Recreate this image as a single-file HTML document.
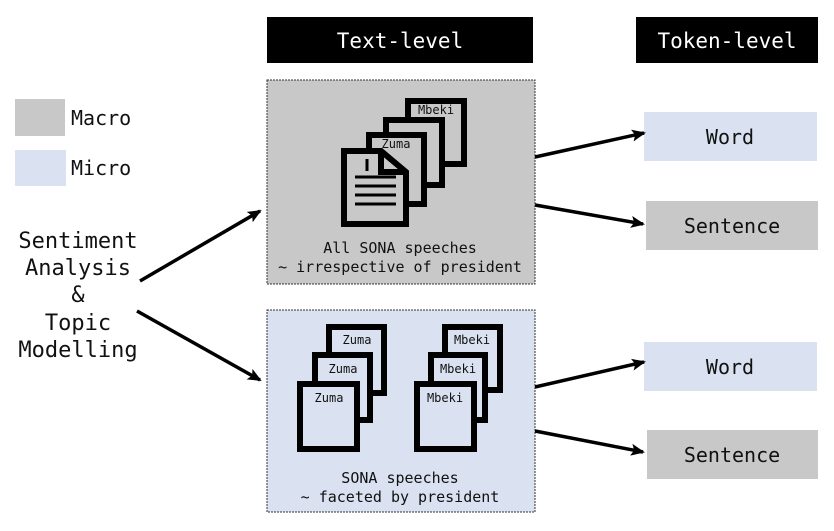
<!DOCTYPE html>
<html><head><meta charset="utf-8"><style>
html,body{margin:0;padding:0;background:#fff;}
svg{display:block;}
text{font-family:"DejaVu Sans Mono","Liberation Mono",monospace;fill:#111;}
</style></head><body>
<svg width="834" height="531" viewBox="0 0 834 531" xmlns="http://www.w3.org/2000/svg">
<defs>
<marker id="ah" markerWidth="14" markerHeight="12" refX="12" refY="6" orient="auto" markerUnits="userSpaceOnUse">
<path d="M0,0 L14,6 L0,12 L3,6 Z" fill="#000"/>
</marker>
</defs>
<!-- headers -->
<rect x="267" y="17" width="266" height="46" fill="#000"/>
<text x="400" y="48" font-size="21" text-anchor="middle" style="fill:#fff">Text-level</text>
<rect x="636" y="17" width="182" height="46" fill="#000"/>
<text x="727" y="48" font-size="21" text-anchor="middle" style="fill:#fff">Token-level</text>
<!-- legend -->
<rect x="15" y="99" width="50" height="37" fill="#c8c8c8"/>
<text x="71" y="125" font-size="20">Macro</text>
<rect x="15" y="150" width="51" height="36" fill="#dae2f1"/>
<text x="71" y="175" font-size="20">Micro</text>
<!-- left label -->
<g font-size="22" text-anchor="middle">
<text x="78" y="248">Sentiment</text>
<text x="78" y="275">Analysis</text>
<text x="78" y="302">&amp;</text>
<text x="78" y="330">Topic</text>
<text x="78" y="357">Modelling</text>
</g>
<line x1="140" y1="281" x2="260" y2="211" stroke="#000" stroke-width="3.5" marker-end="url(#ah)"/>
<line x1="137" y1="311" x2="260" y2="380" stroke="#000" stroke-width="3.5" marker-end="url(#ah)"/>
<!-- top box -->
<rect x="267" y="80" width="268" height="204" fill="#c8c8c8" stroke="#333" stroke-width="1" stroke-dasharray="2,1"/>
<g fill="#c8c8c8" stroke="#000" stroke-width="6">
<rect x="408" y="101" width="56" height="63"/>
<rect x="386" y="120" width="56" height="65"/>
<rect x="369" y="135" width="55" height="69"/>
<path d="M344,151 L381,151 L406,172 L406,224 L344,224 Z"/>
<path d="M381,151 L381,172 L406,172" fill="none"/>
</g>
<g stroke="#000" stroke-width="3">
<line x1="355" y1="177" x2="396" y2="177"/>
<line x1="355" y1="186" x2="396" y2="186"/>
<line x1="355" y1="195" x2="396" y2="195"/>
<line x1="355" y1="204" x2="396" y2="204"/>
<line x1="367" y1="159" x2="367" y2="171"/>
</g>
<text x="436" y="114" font-size="12" text-anchor="middle">Mbeki</text>
<text x="396" y="148" font-size="12" text-anchor="middle">Zuma</text>
<text x="400" y="253" font-size="15" text-anchor="middle">All SONA speeches</text>
<text x="400" y="272" font-size="15" text-anchor="middle">~ irrespective of president</text>
<!-- bottom box -->
<rect x="267" y="310" width="268" height="202" fill="#dae2f1" stroke="#333" stroke-width="1" stroke-dasharray="2,1"/>
<g fill="#dae2f1" stroke="#000" stroke-width="6">
<rect x="329" y="327" width="55" height="66"/>
<rect x="315" y="355" width="55" height="65"/>
<rect x="300" y="384" width="57" height="65"/>
<rect x="445" y="327" width="55" height="63"/>
<rect x="431" y="355" width="54" height="65"/>
<rect x="417" y="384" width="57" height="65"/>
</g>
<g font-size="12" text-anchor="middle">
<text x="357" y="344">Zuma</text>
<text x="343" y="373">Zuma</text>
<text x="329" y="402">Zuma</text>
<text x="472" y="344">Mbeki</text>
<text x="458" y="373">Mbeki</text>
<text x="445" y="402">Mbeki</text>
</g>
<text x="400" y="483" font-size="15" text-anchor="middle">SONA speeches</text>
<text x="400" y="502" font-size="15" text-anchor="middle">~ faceted by president</text>
<!-- right boxes -->
<rect x="644" y="112" width="173" height="49" fill="#dae2f1"/>
<text x="730" y="144" font-size="20" text-anchor="middle">Word</text>
<rect x="646" y="201" width="172" height="49" fill="#c8c8c8"/>
<text x="732" y="233" font-size="20" text-anchor="middle">Sentence</text>
<rect x="644" y="342" width="173" height="49" fill="#dae2f1"/>
<text x="730" y="374" font-size="20" text-anchor="middle">Word</text>
<rect x="647" y="430" width="171" height="49" fill="#c8c8c8"/>
<text x="732" y="462" font-size="20" text-anchor="middle">Sentence</text>
<!-- right arrows -->
<line x1="535" y1="157" x2="644" y2="133" stroke="#000" stroke-width="3.5" marker-end="url(#ah)"/>
<line x1="535" y1="205" x2="643" y2="224" stroke="#000" stroke-width="3.5" marker-end="url(#ah)"/>
<line x1="535" y1="387" x2="644" y2="362" stroke="#000" stroke-width="3.5" marker-end="url(#ah)"/>
<line x1="535" y1="431" x2="643" y2="452" stroke="#000" stroke-width="3.5" marker-end="url(#ah)"/>
</svg>
</body></html>
